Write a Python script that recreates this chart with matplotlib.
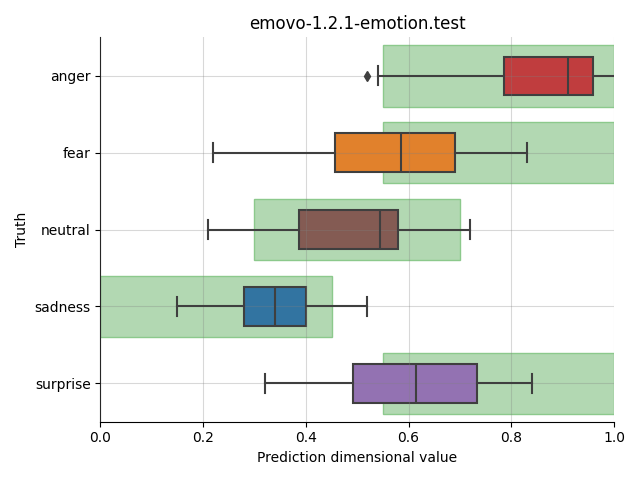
import matplotlib
matplotlib.use("Agg")
import matplotlib.pyplot as plt
from matplotlib.patches import Rectangle

emotions = ['anger', 'fear', 'neutral', 'sadness', 'surprise']
whislo = [0.54, 0.22, 0.21, 0.15, 0.32]
q1 = [0.786, 0.457, 0.387, 0.28, 0.492]
med = [0.911, 0.586, 0.545, 0.34, 0.615]
q3 = [0.959, 0.691, 0.580, 0.40, 0.733]
whishi = [1.05, 0.831, 0.72, 0.52, 0.84]
fliers = [[0.519], [], [], [], []]
# expected range of each emotion (green bands)
range_lo = [0.55, 0.55, 0.3, 0.0, 0.55]
range_hi = [1.0, 1.0, 0.7, 0.45, 1.0]
box_colors = ['#c03d3e', '#e1812c', '#845b53', '#3274a1', '#9372b2']

fig, ax = plt.subplots(figsize=(6.4, 4.8), dpi=100)

for i in range(len(emotions)):
    ax.add_patch(Rectangle((range_lo[i], i - 0.4), range_hi[i] - range_lo[i], 0.8,
                           facecolor='#b2d8b2', edgecolor='#8cc98c', lw=1, zorder=1))

stats = []
for i, e in enumerate(emotions):
    stats.append({'label': e, 'whislo': whislo[i], 'q1': q1[i], 'med': med[i],
                  'q3': q3[i], 'whishi': whishi[i], 'fliers': fliers[i]})

lc = '#3f3f3f'
bp = ax.bxp(stats, positions=range(len(emotions)), vert=False, widths=0.5,
            patch_artist=True, manage_ticks=False,
            boxprops=dict(edgecolor=lc, lw=1.5),
            medianprops=dict(color=lc, lw=1.5),
            whiskerprops=dict(color=lc, lw=1.5),
            capprops=dict(color=lc, lw=1.5),
            flierprops=dict(marker='d', markerfacecolor=lc, markeredgecolor=lc, markersize=5))
for patch, c in zip(bp['boxes'], box_colors):
    patch.set_facecolor(c)
    patch.set_zorder(2)
for key in ['whiskers', 'caps', 'medians', 'fliers']:
    for a in bp[key]:
        a.set_zorder(3)

ax.set_yticks(range(len(emotions)))
ax.set_yticklabels(emotions)
ax.set_ylim(len(emotions) - 0.5, -0.5)
ax.set_xlim(0, 1)
ax.set_axisbelow(False)
ax.grid(color='gray', alpha=0.3, lw=0.8, zorder=4)
ax.spines['top'].set_visible(False)
ax.spines['right'].set_visible(False)
ax.set_title('emovo-1.2.1-emotion.test')
ax.set_xlabel('Prediction dimensional value')
ax.set_ylabel('Truth')
plt.tight_layout()
plt.savefig('out.png')
